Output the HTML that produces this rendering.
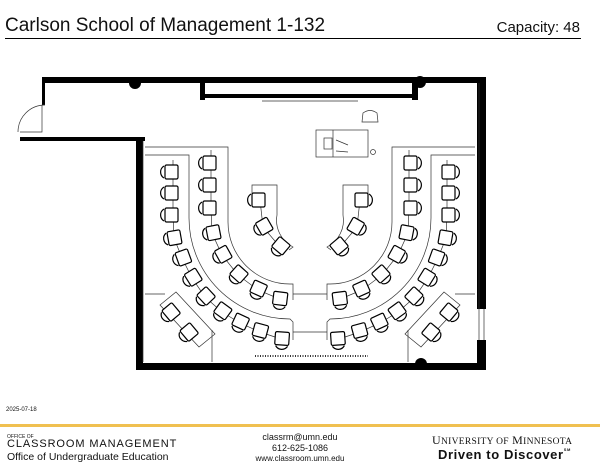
<!DOCTYPE html>
<html><head><meta charset="utf-8"><style>
html,body{margin:0;padding:0;background:#fff;}
body{width:600px;height:464px;position:relative;overflow:hidden;font-family:"Liberation Sans",sans-serif;}
.t{position:absolute;white-space:nowrap;color:#111;}
</style></head><body>
<div class="t" style="left:5px;top:15px;font-size:19px;">Carlson School of Management 1-132</div>
<div class="t" style="right:20px;top:19px;font-size:15px;">Capacity: 48</div>
<div style="position:absolute;left:5px;top:38px;width:576px;height:1px;background:#000;"></div>
<div class="t" style="left:6px;top:407px;font-size:6px;">2025-07-18</div>
<div style="position:absolute;left:0;top:424px;width:600px;height:3px;background:#f0c050;"></div>
<div class="t" style="left:7px;top:434px;font-size:5px;">OFFICE OF</div>
<div class="t" style="left:7px;top:438px;font-size:11px;letter-spacing:0.9px;">CLASSROOM MANAGEMENT</div>
<div class="t" style="left:7px;top:451px;font-size:10.5px;">Office of Undergraduate Education</div>
<div class="t" style="left:250px;top:432px;font-size:9px;width:100px;text-align:center;">classrm@umn.edu</div>
<div class="t" style="left:250px;top:443px;font-size:9px;width:100px;text-align:center;">612-625-1086</div>
<div class="t" style="left:235px;top:454px;font-size:8px;width:130px;text-align:center;">www.classroom.umn.edu</div>
<div class="t" style="left:432px;top:433px;font-size:12px;font-family:'Liberation Serif',serif;letter-spacing:0.3px;">U<span style="font-size:9.5px">NIVERSITY OF</span> M<span style="font-size:9.5px">INNESOTA</span></div>
<div class="t" style="left:438px;top:447px;font-size:13px;font-weight:bold;letter-spacing:0.6px;">Driven to Discover<span style="font-size:4px;vertical-align:top;">SM</span></div>

<svg width="600" height="464" style="position:absolute;left:0;top:0" viewBox="0 0 600 464">
<defs>
<g id="c" fill="#fff" stroke="#000" stroke-width="1.2">
<path d="M-6,-6 A7,7 0 0 0 -6,6" fill="#fff"/>
<rect x="-5" y="-7" width="13" height="14" rx="1.5"/>
</g>
<g id="L" fill="none" stroke="#333" stroke-width="0.7">
<path d="M145,147 H228 V222 A62,62 0 0 0 290,284 L293,284 V300"/>
<path d="M145,155 H189 V218 A101,101 0 0 0 290,319 L293,322 V340"/>
<path d="M293,294 H310 M293,332 H310"/>
<path d="M252,200 V185 H277 V215 A30,30 0 0 0 293,247 L289,250"/>
<path d="M145,294 H165 M212,330 V362"/>
<path d="M160,305 L176,292 L215,334 L199,347 Z"/>
<polyline points="173,160 173,215 174,238 182,258 192,278 205,297 222,312 240,323 260,332 284,340"/>
<polyline points="211,150 211,208 212,233 222,255 238,275 258,290 282,300"/>
<polyline points="260,200 263,227 280,247"/>
<use href="#c" x="170" y="172"/>
<use href="#c" x="170" y="193"/>
<use href="#c" x="170" y="215"/>
<g transform="translate(173,238) rotate(-10)"><use href="#c"/></g>
<g transform="translate(182,258) rotate(-20)"><use href="#c"/></g>
<g transform="translate(192,278) rotate(-32)"><use href="#c"/></g>
<g transform="translate(205,297) rotate(-43)"><use href="#c"/></g>
<g transform="translate(222,312) rotate(-54)"><use href="#c"/></g>
<g transform="translate(240,323) rotate(-65)"><use href="#c"/></g>
<g transform="translate(260,332) rotate(-75)"><use href="#c"/></g>
<g transform="translate(282,340) rotate(-86)"><use href="#c"/></g>
<use href="#c" x="208" y="163"/>
<use href="#c" x="208" y="185"/>
<use href="#c" x="208" y="208"/>
<g transform="translate(212,233) rotate(-11)"><use href="#c"/></g>
<g transform="translate(222,255) rotate(-29)"><use href="#c"/></g>
<g transform="translate(238,275) rotate(-48)"><use href="#c"/></g>
<g transform="translate(258,290) rotate(-66)"><use href="#c"/></g>
<g transform="translate(280,300) rotate(-83)"><use href="#c"/></g>
<use href="#c" x="257" y="200"/>
<g transform="translate(263,227) rotate(-30)"><use href="#c"/></g>
<g transform="translate(280,247) rotate(-50)"><use href="#c"/></g>
<g transform="translate(170,313) rotate(-40)"><use href="#c"/></g>
<g transform="translate(188,333) rotate(-40)"><use href="#c"/></g>
</g>
</defs>
<use href="#L"/>
<g transform="translate(620,0) scale(-1,1)"><use href="#L"/></g>
<g fill="#000">
<rect x="42" y="77" width="444" height="6"/>
<rect x="477" y="77" width="9" height="232"/>
<rect x="477" y="340" width="9" height="30"/>
<rect x="136" y="363" width="350" height="7"/>
<rect x="136" y="137" width="7" height="233"/>
<rect x="20" y="137" width="125" height="4"/>
<rect x="42" y="77" width="3" height="28"/>
<rect x="200" y="83" width="5" height="17"/>
<rect x="412" y="83" width="6" height="17"/>
<rect x="200" y="94" width="218" height="4"/>
<circle cx="135" cy="83" r="6"/>
<circle cx="420" cy="82" r="6"/>
<circle cx="421" cy="364" r="6"/>
</g>
<g fill="none" stroke="#333" stroke-width="0.7">
<path d="M262,101 H358"/>
<path d="M479,309 V340 M484,309 V340"/>
<path d="M45,105 A27,27 0 0 0 18,132"/>
<path d="M20,132 H42 V105"/>
<path d="M255,356 H368" stroke-dasharray="1,1.5" stroke-width="2"/>
<path d="M143,141 V362 M479,83 V309"/>
<rect x="316" y="130" width="52" height="27" fill="#fff"/>
<path d="M333,130 V157"/>
<path d="M363,113 q7,-5 14,0 l1,9 h-16 z"/>
<rect x="324" y="138" width="8" height="11"/>
<path d="M336,140 l12,5 M336,151 l12,1"/>
<circle cx="373" cy="152" r="2.5"/>
</g>
</svg>
</body></html>
